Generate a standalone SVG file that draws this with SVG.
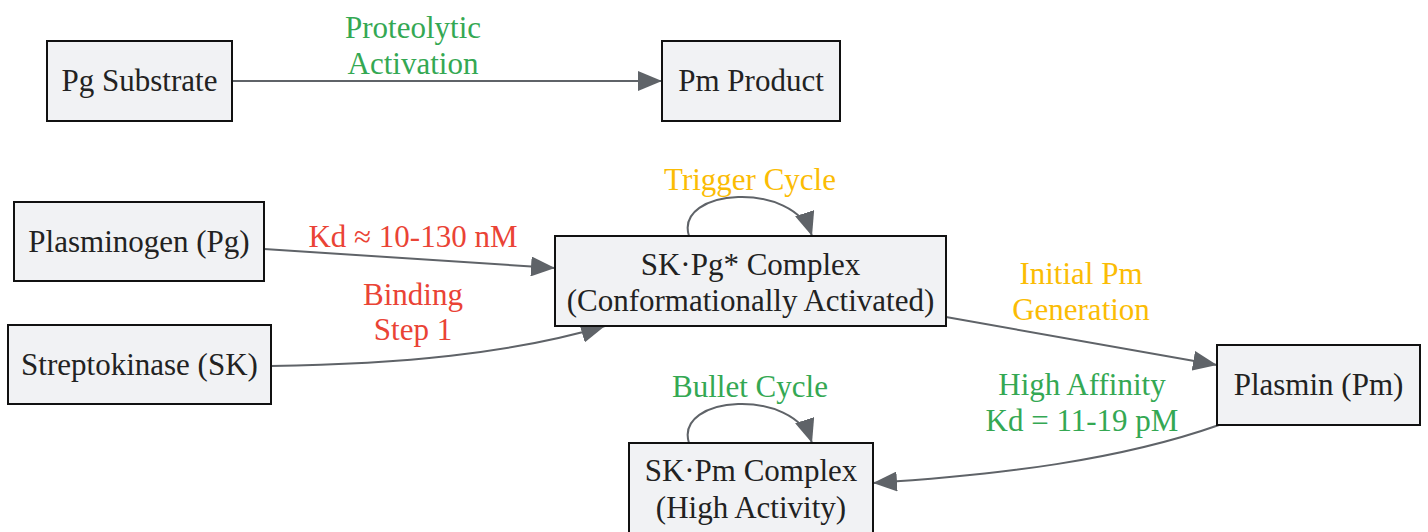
<svg xmlns="http://www.w3.org/2000/svg" width="1428" height="532" viewBox="0 0 1428 532">
<defs>
<marker id="arrB" viewBox="0 0 24 20" refX="24" refY="10" markerWidth="24" markerHeight="20" markerUnits="userSpaceOnUse" orient="auto">
<path d="M0,0 L24,10 L0,20 z" fill="#5f6368"/>
</marker>
<style>
.node rect{fill:#f1f2f4;stroke:#111;stroke-width:2}
.node text{font-family:"Liberation Serif",serif;font-size:31px;fill:#222;text-anchor:middle}
.edge{fill:none;stroke:#5f6368;stroke-width:2;marker-end:url(#arrB)}
.lbl{font-family:"Liberation Serif",serif;font-size:31px;text-anchor:middle}
.g{fill:#34a853}.y{fill:#fbbc04}.r{fill:#ea4335}
</style>
</defs>
<rect width="1428" height="532" fill="#fff"/>
<g id="connectors">
<path class="edge" d="M232,81 L662,81"/>
<path class="edge" d="M264,249 L555,268"/>
<path class="edge" d="M271,366 C400,364 510,354 605,326"/>
<path class="edge" d="M946,317 L1217,365"/>
<path class="edge" d="M1219,425 C1120,460 1000,475 873,483"/>
<path class="edge" d="M689,236 C674,188 794,180 812,236"/>
<path class="edge" d="M689,443 C674,395 794,387 812,443"/>
</g>
<g id="labels">
<text class="lbl g" x="413" y="38">Proteolytic</text>
<text class="lbl g" x="413" y="74">Activation</text>
<text class="lbl y" x="750" y="190">Trigger Cycle</text>
<text class="lbl r" x="413" y="247">Kd ≈ 10-130 nM</text>
<text class="lbl r" x="413" y="305">Binding</text>
<text class="lbl r" x="413" y="340">Step 1</text>
<text class="lbl y" x="1081" y="284">Initial Pm</text>
<text class="lbl y" x="1081" y="320">Generation</text>
<text class="lbl g" x="1082" y="395">High Affinity</text>
<text class="lbl g" x="1082" y="431">Kd = 11-19 pM</text>
<text class="lbl g" x="750" y="397">Bullet Cycle</text>
</g>
<g id="pg_substrate" class="node"><rect x="47" y="41" width="185" height="80"/><text x="139.5" y="91">Pg Substrate</text></g>
<g id="pm_product" class="node"><rect x="662" y="41" width="178" height="80"/><text x="751" y="91">Pm Product</text></g>
<g id="plasminogen" class="node"><rect x="14" y="202" width="250" height="79"/><text x="139" y="252">Plasminogen (Pg)</text></g>
<g id="streptokinase" class="node"><rect x="8" y="325" width="263" height="79"/><text x="139.5" y="375">Streptokinase (SK)</text></g>
<g id="sk_pg" class="node"><rect x="555" y="236" width="391" height="90"/><text x="750.5" y="275">SK·Pg* Complex</text><text x="750.5" y="311">(Conformationally Activated)</text></g>
<g id="plasmin" class="node"><rect x="1217" y="345" width="203" height="80"/><text x="1318.5" y="395">Plasmin (Pm)</text></g>
<g id="sk_pm" class="node"><rect x="629" y="443" width="244" height="100"/><text x="751" y="481">SK·Pm Complex</text><text x="751" y="518">(High Activity)</text></g>
</svg>
